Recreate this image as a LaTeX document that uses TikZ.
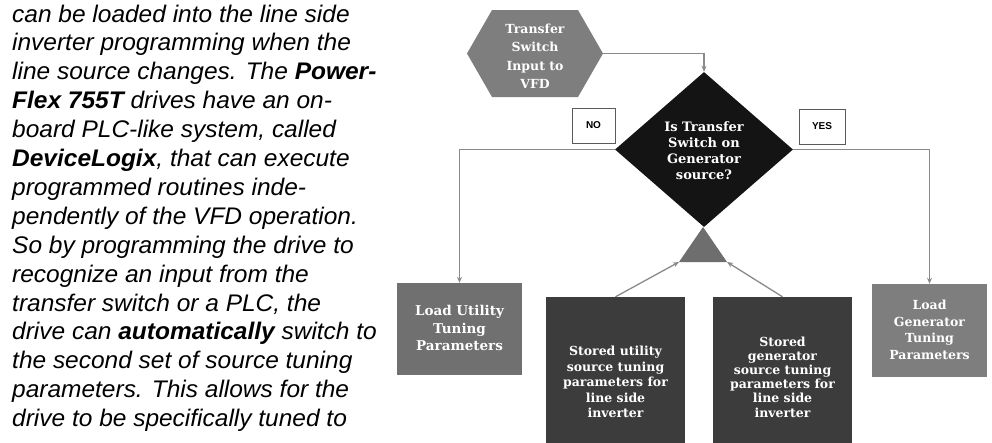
\documentclass[tikz,border=0pt]{standalone}
\usepackage{fontspec}
\setmainfont{Liberation Sans}
\newfontfamily\parafont{Liberation Sans}[FakeStretch=1.02]
\newfontfamily\boxfont{DejaVu Serif}
\usetikzlibrary{shapes.geometric,arrows.meta}
\definecolor{hexgray}{HTML}{7E7E7E}
\definecolor{diablack}{HTML}{141414}
\definecolor{trigray}{HTML}{6E6E6E}
\definecolor{midgray}{HTML}{707070}
\definecolor{darkbox}{HTML}{3C3C3C}
\definecolor{linegray}{HTML}{8A8A8A}
\definecolor{labborder}{HTML}{5A5A5A}
\begin{document}
\begin{tikzpicture}[x=1pt,y=-1pt,
  para/.style={anchor=base west,inner sep=0pt,font=\parafont\fontsize{24}{29}\selectfont\itshape},
  boxtxt/.style={text=white,align=center,inner sep=0pt,font=\boxfont\bfseries\fontsize{13}{16}\selectfont},
  procbox/.style={rectangle,inner sep=0pt,draw=none},
  conn/.style={draw=linegray,line width=1.3pt,-{Stealth[length=6pt,width=5pt]}},
  lab/.style={rectangle,draw=labborder,fill=white,line width=0.8pt,inner sep=0pt,font=\fontsize{10}{12}\selectfont\bfseries}
]
\useasboundingbox (0,0) rectangle (992,442);
% left text
\node[para] (t1) at (12,22) {can be loaded into the line side};
\node[para] (t2) at (12,50.9) {inverter programming when the};
\node[para] (t3) at (12,79.8) {line source changes. The \textbf{Power-}};
\node[para] (t4) at (12,108.7) {\textbf{Flex 755T} drives have an on-};
\node[para] (t5) at (12,137.6) {board PLC-like system, called};
\node[para] (t6) at (12,166.5) {\textbf{DeviceLogix}, that can execute};
\node[para] (t7) at (12,195.4) {programmed routines inde-};
\node[para] (t8) at (12,224.3) {pendently of the VFD operation.};
\node[para] (t9) at (12,253.2) {So by programming the drive to};
\node[para] (t10) at (12,282.1) {recognize an input from the};
\node[para] (t11) at (12,311) {transfer switch or a PLC, the};
\node[para] (t12) at (12,339.9) {drive can \textbf{automatically} switch to};
\node[para] (t13) at (12,368.8) {the second set of source tuning};
\node[para] (t14) at (12,397.7) {parameters. This allows for the};
\node[para] (t15) at (12,426.6) {drive to be specifically tuned to};
% hexagon
\path[fill=hexgray] (467,53.5) -- (492,10) -- (578,10) -- (603,53.5) -- (578,97) -- (492,97) -- cycle;
\coordinate (hexR) at (603,53.5);
\node[boxtxt,font=\boxfont\bfseries\fontsize{12.5}{18.5}\selectfont] (hex) at (535,56) {Transfer\\Switch\\Input to\\VFD};
% diamond
\node[diamond,fill=diablack,minimum width=178pt,minimum height=155pt,inner sep=0pt] (dia) at (704,149.5) {};
\node[boxtxt] (diatxt) at (704,151) {Is Transfer\\Switch on\\Generator\\source?};
% triangle
\path[fill=trigray] (703,227) -- (679,262) -- (727,262) -- cycle;
\coordinate (triL) at (679,262);
\coordinate (triR) at (727,262);
% boxes
\node[procbox,fill=midgray,minimum width=125pt,minimum height=92pt] (lu) at (459.5,329) {};
\node[boxtxt,font=\boxfont\bfseries\fontsize{13.5}{17.5}\selectfont] (lutxt) at (459.5,328) {Load Utility\\Tuning\\Parameters};
\node[procbox,fill=hexgray,minimum width=115pt,minimum height=93pt] (lg) at (929.5,330.5) {};
\node[boxtxt,font=\boxfont\bfseries\fontsize{12.5}{16.5}\selectfont] (lgtxt) at (929.5,330) {Load\\Generator\\Tuning\\Parameters};
\node[procbox,fill=darkbox,minimum width=139pt,minimum height=146pt] (su) at (615.5,370) {};
\node[boxtxt,font=\boxfont\bfseries\fontsize{12.5}{15.5}\selectfont] (sutxt) at (615.5,382) {Stored utility\\source tuning\\parameters for\\line side\\inverter};
\node[procbox,fill=darkbox,minimum width=139pt,minimum height=146pt] (sg) at (782.5,370) {};
\node[boxtxt,font=\boxfont\bfseries\fontsize{12.5}{14.2}\selectfont] (sgtxt) at (782.5,377) {Stored\\generator\\source tuning\\parameters for\\line side\\inverter};
% labels
\node[lab,minimum width=43pt,minimum height=35pt] (no) at (593.5,125.5) {NO};
\node[lab,minimum width=46pt,minimum height=35pt] (yes) at (822,126.5) {YES};
% connectors
\draw[conn] (hexR) -| (dia.north);
\draw[conn] (dia.west) -| (lu.north);
\draw[conn] (dia.east) -| (lg.north);
\draw[conn] (su.north) -- (triL);
\draw[conn] (sg.north) -- (triR);
\end{tikzpicture}
\end{document}
